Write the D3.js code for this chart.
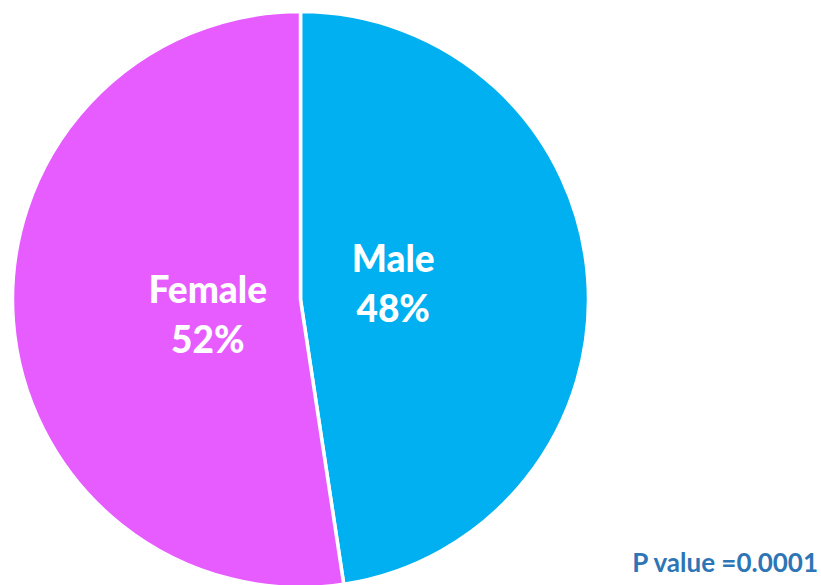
<!DOCTYPE html>
<html>
<head>
<meta charset="utf-8">
<script src="https://cdn.jsdelivr.net/npm/d3@7"></script>
<style>
  body { margin: 0; background: #fff; }
  svg { display: block; }
</style>
</head>
<body>
<script>
const width = 821;
const height = 585;

const categories = ['Male', 'Female'];
const values = [47.6, 52.4];
const labels = ['48%', '52%'];
const colors = ['#00B0F0', '#E65CFF'];
const pValue = 'P value =0.0001';

const cx = 300.5, cy = 299.5, radius = 288;

const svg = d3.select('body')
    .append('svg')
    .attr('width', width)
    .attr('height', height);

const data = categories.map((c, i) => ({ name: c, value: values[i], label: labels[i], color: colors[i] }));

const pie = d3.pie()
    .sort(null)
    .value(d => d.value);

const arc = d3.arc()
    .innerRadius(0)
    .outerRadius(radius);

// labels sit a little counter-clockwise of the slice middle, like Excel does
const labelShift = -0.09;
const labelArc = d3.arc()
    .innerRadius(94)
    .outerRadius(94);

const g = svg.append('g')
    .attr('transform', `translate(${cx},${cy})`);

g.selectAll('path')
    .data(pie(data))
    .join('path')
    .attr('d', arc)
    .attr('fill', d => d.data.color)
    .attr('stroke', 'white')
    .attr('stroke-width', 3.5)
    .attr('stroke-linejoin', 'round');

const lbl = g.selectAll('text.lbl')
    .data(pie(data))
    .join('text')
    .attr('class', 'lbl')
    .attr('transform', d => `translate(${labelArc.centroid({ startAngle: d.startAngle + labelShift, endAngle: d.endAngle + labelShift })})`)
    .attr('text-anchor', 'middle')
    .attr('fill', 'white')
    .attr('font-family', 'Lato, sans-serif')
    .attr('font-weight', 900)
    .attr('font-size', 37);

lbl.append('tspan')
    .attr('x', 0)
    .attr('y', -12)
    .text(d => d.data.name);

lbl.append('tspan')
    .attr('x', 0)
    .attr('y', 38)
    .text(d => d.data.label);

svg.append('text')
    .attr('x', 818)
    .attr('y', 572)
    .attr('text-anchor', 'end')
    .attr('fill', '#2E75B6')
    .attr('font-family', 'Lato, sans-serif')
    .attr('font-weight', 'bold')
    .attr('font-size', 26)
    .text(pValue);
</script>
</body>
</html>
